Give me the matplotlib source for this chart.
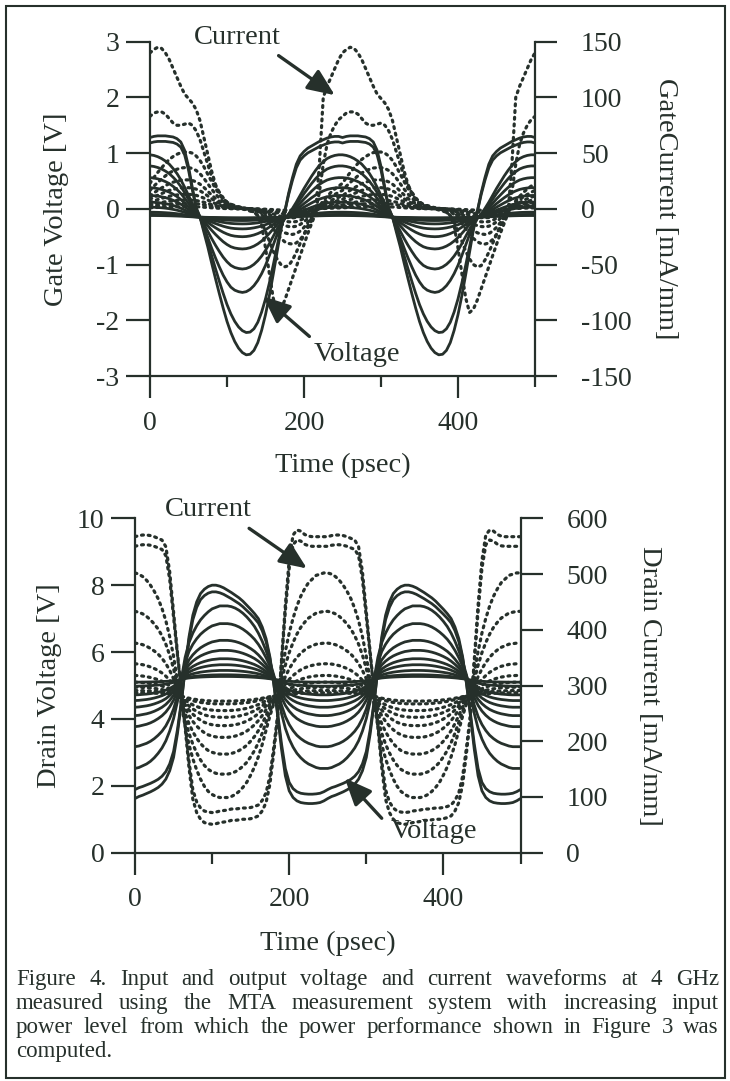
import numpy as np
import matplotlib
matplotlib.use("Agg")
import matplotlib.pyplot as plt
from matplotlib.patches import Rectangle

plt.rcParams["font.family"] = ["Liberation Serif", "DejaVu Serif"]
plt.rcParams["axes.unicode_minus"] = False

INK = "#26302b"

# time grid of one 250 ps period (4 GHz), 5 ps steps; drawn over two periods
T_STEP = 5
T_PERIOD = 250

# ---- gate side (top panel) ----
VG_BIAS = -0.15
VG_LARGE = [1.28, 1.30, 1.31, 1.31, 1.31, 1.30, 1.29, 1.26, 1.20, 1.05,
            0.76, 0.38, 0.02, -0.15, -0.42, -0.68, -0.97, -1.25, -1.52, -1.78,
            -2.02, -2.22, -2.38, -2.50, -2.58, -2.62, -2.61, -2.54, -2.40, -2.18,
            -1.90, -1.56, -1.18, -0.78, -0.38, -0.05, 0.28, 0.56, 0.80, 0.95,
            1.03, 1.09, 1.13, 1.17, 1.21, 1.24, 1.27, 1.29, 1.30, 1.30]
VG_SMALL = [1.00, 0.99, 0.97, 0.94, 0.90, 0.85, 0.78, 0.70, 0.60, 0.48,
            0.35, 0.22, 0.10, 0.00, -0.13, -0.27, -0.41, -0.54, -0.66, -0.77,
            -0.86, -0.93, -0.97, -0.99, -1.00, -0.99, -0.96, -0.91, -0.84, -0.75,
            -0.64, -0.51, -0.37, -0.23, -0.11, -0.02, 0.05, 0.14, 0.24, 0.35,
            0.46, 0.56, 0.66, 0.75, 0.83, 0.89, 0.94, 0.97, 0.99, 1.00]
VG_PEAK = [1.31, 1.21, 0.97, 0.77, 0.56, 0.38, 0.24, 0.12, 0.03, -0.06, -0.10, -0.12]
VG_TROUGH = [-2.62, -2.22, -1.50, -1.08, -0.72, -0.50, -0.36, -0.27, -0.21, -0.18, -0.17, -0.16]

IG_LARGE = [140, 143, 145, 144, 140, 134, 126, 118, 110, 103,
            99, 95, 89, 79, 64, 49, 34, 22, 14, 8,
            5, 3, 2, 1, 0, -1, -2, -3, -6, -15,
            -35, -58, -80, -93, -90, -82, -72, -62, -52, -42,
            -32, -22, -13, -4, 40, 100, 110, 118, 126, 134]
IG_SECOND = [83, 86, 87, 87, 85, 81, 77, 75, 75, 76,
             77, 75, 70, 62, 51, 40, 29, 21, 15, 10,
             6, 4, 3, 2, 1, 0, -1, -3, -6, -12,
             -20, -29, -38, -45, -50, -52, -51, -46, -39, -31,
             -23, -15, -8, -2, 15, 40, 58, 68, 75, 80]
IG_SMALL = [0.45, 0.55, 0.64, 0.72, 0.80, 0.87, 0.92, 0.96, 0.99, 1.00,
            1.00, 0.98, 0.93, 0.85, 0.74, 0.61, 0.48, 0.36, 0.26, 0.18,
            0.12, 0.08, 0.05, 0.03, 0.02, 0.01, 0.00, -0.02, -0.05, -0.10,
            -0.17, -0.26, -0.35, -0.44, -0.52, -0.58, -0.61, -0.62, -0.60, -0.54,
            -0.45, -0.33, -0.20, -0.07, 0.05, 0.14, 0.22, 0.29, 0.35, 0.40]
IG_SMALL_PEAK = [51, 37, 26, 19, 13, 8, 5, 2]

# ---- drain side (bottom panel) ----
VD_BIAS = 5.18
VD_LARGE = [1.62, 1.68, 1.72, 1.77, 1.82, 1.88, 1.95, 2.05, 2.20, 2.45,
            2.85, 3.55, 4.45, 5.50, 6.45, 7.10, 7.50, 7.75, 7.88, 7.96,
            8.00, 8.00, 7.97, 7.92, 7.85, 7.78, 7.70, 7.62, 7.52, 7.40,
            7.28, 7.15, 7.00, 6.75, 6.40, 5.85, 5.05, 4.10, 3.10, 2.30,
            1.85, 1.65, 1.55, 1.50, 1.48, 1.47, 1.47, 1.48, 1.50, 1.55]
VD_SMALL = [-1.00, -0.99, -0.97, -0.95, -0.92, -0.88, -0.83, -0.77, -0.69, -0.58,
            -0.44, -0.25, 0.00, 0.30, 0.50, 0.63, 0.73, 0.81, 0.87, 0.92,
            0.96, 0.98, 1.00, 1.00, 1.00, 0.99, 0.97, 0.94, 0.90, 0.85,
            0.79, 0.72, 0.63, 0.52, 0.39, 0.24, 0.06, -0.15, -0.38, -0.55,
            -0.67, -0.76, -0.83, -0.88, -0.92, -0.95, -0.97, -0.99, -1.00, -1.00]
VD_PEAK = [8.00, 7.80, 7.38, 6.85, 6.35, 6.05, 5.80, 5.62, 5.45, 5.32, 5.27]
VD_TROUGH = [1.47, 1.75, 2.52, 3.17, 3.77, 4.10, 4.35, 4.55, 4.72, 4.98, 5.10]

ID_BIAS = 282
ID_LARGE = [567, 569, 570, 570, 569, 567, 564, 561, 549, 504,
            432, 360, 291, 225, 153, 96, 72, 60, 54, 52,
            51, 52, 54, 55, 56, 58, 58, 59, 60, 60,
            61, 63, 66, 75, 90, 123, 180, 243, 345, 444,
            525, 570, 579, 577, 571, 568, 567, 567, 567, 567]
ID_SMALL = [1.00, 0.99, 0.97, 0.94, 0.90, 0.85, 0.79, 0.71, 0.61, 0.48,
            0.32, 0.12, -0.08, -0.30, -0.48, -0.62, -0.73, -0.82, -0.89, -0.94,
            -0.97, -0.99, -1.00, -1.00, -1.00, -0.99, -0.97, -0.94, -0.90, -0.85,
            -0.78, -0.70, -0.60, -0.48, -0.34, -0.20, -0.08, -0.02, 0.18, 0.36,
            0.51, 0.63, 0.73, 0.81, 0.87, 0.92, 0.95, 0.98, 0.99, 1.00]
ID_PEAK = [579, 561, 502, 433, 376, 339, 318, 306, 297, 291, 287]
ID_TROUGH = [51, 72, 99, 141, 177, 207, 228, 243, 255, 267, 272]

CAPTION = ["Figure 4. Input and output voltage  and current waveforms at 4 GHz",
           "measured using the MTA measurement system  with increasing  input",
           "power level from which the power performance shown in Figure 3 was",
           "computed."]

t = np.arange(0, 2 * T_PERIOD + T_STEP, T_STEP)


def two_periods(per):
    per = np.asarray(per, float)
    return np.concatenate([per, per, per[:1]])


def fit_wave(shape, ref, bias, hi, lo):
    # stretch a read-off waveform so its crest/trough land on the read-off levels
    rel = np.asarray(shape, float) - ref
    up = np.clip(rel, 0, None) / rel.max()
    dn = np.clip(rel, None, 0) / -rel.min()
    return two_periods(bias + up * (hi - bias) + dn * (bias - lo))


solid = dict(color=INK, lw=2.0, solid_capstyle="round")
dotted = dict(color=INK, lw=2.3, ls=(0, (0.6, 1.5)), dash_capstyle="round")

fig = plt.figure(figsize=(7.3, 10.81), dpi=100)
W, H = 730, 1081


def px_axes(l, r, top, bot):
    return fig.add_axes([l / W, 1 - bot / H, (r - l) / W, (bot - top) / H])


def style_axes(ax, ax2):
    ax.set_xlim(0, 500)
    ax.spines["top"].set_visible(False)
    ax.spines["right"].set_visible(False)
    for s in ("top", "left", "bottom"):
        ax2.spines[s].set_visible(False)
    for a in (ax, ax2):
        for s in a.spines.values():
            s.set_linewidth(1.6)
            s.set_color(INK)
        a.set_facecolor("none")
    ax.set_xticks([0, 100, 200, 300, 400, 500])
    ax.set_xticklabels(["0", "", "200", "", "400", ""])
    ax.tick_params(axis="x", direction="out", length=16, width=1.6, pad=9,
                   labelsize=20, color=INK, labelcolor=INK)
    for i, tk in enumerate(ax.xaxis.get_major_ticks()):
        if i % 2 == 1:
            tk.tick1line.set_markersize(8)
    ax.tick_params(axis="y", direction="out", length=17, width=1.6, pad=5,
                   labelsize=20, color=INK, labelcolor=INK)
    ax2.tick_params(axis="y", direction="out", length=16, width=1.6, pad=17,
                    labelsize=20, color=INK, labelcolor=INK)


def arrow(ax, tail, head):
    ax.annotate("", xy=head, xytext=tail, annotation_clip=False,
                arrowprops=dict(arrowstyle="-|>,head_length=0.75,head_width=0.32",
                                lw=2.4, color=INK, mutation_scale=22, shrinkA=0, shrinkB=0))


# ---------------- top panel: gate ----------------
ax = px_axes(150, 535, 41.7, 376)
ax2 = ax.twinx()
ax.set_ylim(-3, 3)
ax2.set_ylim(-150, 150)
for i, (hi, lo) in enumerate(zip(VG_PEAK, VG_TROUGH)):
    if i < 2:
        y = fit_wave(VG_LARGE, VG_BIAS, VG_BIAS, hi, lo)
    else:
        y = fit_wave(VG_SMALL, 0.0, VG_BIAS, hi, lo)
    ax.plot(t, y, **solid)
ax2.plot(t, two_periods(IG_LARGE), **dotted)
ax2.plot(t, two_periods(IG_SECOND), **dotted)
for amp in IG_SMALL_PEAK:
    ax2.plot(t, two_periods(IG_SMALL) * amp, **dotted)
style_axes(ax, ax2)
ax.set_yticks([-3, -2, -1, 0, 1, 2, 3])
ax2.set_yticks([-150, -100, -50, 0, 50, 100, 150])
ax.set_xlabel("Time (psec)", fontsize=20.5, color=INK)
ax.xaxis.set_label_coords(0.5, -0.266)
ax.xaxis.label.set_va("center")
ax.set_ylabel("Gate Voltage [V]", fontsize=20.5, color=INK)
ax.yaxis.label.set_va("center")
ax.yaxis.set_label_coords(-0.244, 0.5)
ax2.set_ylabel("GateCurrent [mA/mm]", fontsize=20.5, color=INK, rotation=270)
ax2.yaxis.label.set_va("center")
ax2.yaxis.set_label_coords(1.34, 0.5)
ax.text(114, 3.07, "Current", fontsize=20.5, color=INK, ha="center", va="center", clip_on=False)
arrow(ax, (167, 2.75), (240, 2.04))
ax.text(269, -2.62, "Voltage", fontsize=20.5, color=INK, ha="center", va="center", clip_on=False)
arrow(ax, (207, -2.29), (147, -1.57))

# ---------------- bottom panel: drain ----------------
bx = px_axes(135, 520.5, 518.3, 852.7)
bx2 = bx.twinx()
bx.set_ylim(0, 10)
bx2.set_ylim(0, 600)
for i, (hi, lo) in enumerate(zip(VD_PEAK, VD_TROUGH)):
    if i < 2:
        y = fit_wave(VD_LARGE, VD_BIAS, VD_BIAS, hi, lo)
    else:
        y = fit_wave(VD_SMALL, 0.0, VD_BIAS, hi, lo)
    bx.plot(t, y, **solid)
for i, (hi, lo) in enumerate(zip(ID_PEAK, ID_TROUGH)):
    if i < 2:
        y = fit_wave(ID_LARGE, ID_BIAS, ID_BIAS, hi, lo)
    else:
        y = fit_wave(ID_SMALL, 0.0, ID_BIAS, hi, lo)
    bx2.plot(t, y, **dotted)
style_axes(bx, bx2)
bx.set_yticks([0, 2, 4, 6, 8, 10])
bx2.set_yticks([0, 100, 200, 300, 400, 500, 600])
bx.set_xlabel("Time (psec)", fontsize=20.5, color=INK)
bx.xaxis.set_label_coords(0.5, -0.27)
bx.xaxis.label.set_va("center")
bx.set_ylabel("Drain Voltage [V]", fontsize=20.5, color=INK)
bx.yaxis.label.set_va("center")
bx.yaxis.set_label_coords(-0.223, 0.5)
bx2.set_ylabel("Drain Current [mA/mm]", fontsize=20.5, color=INK, rotation=270)
bx2.yaxis.label.set_va("center")
bx2.yaxis.set_label_coords(1.335, 0.5)
bx.text(95, 10.25, "Current", fontsize=20.5, color=INK, ha="center", va="center", clip_on=False)
arrow(bx, (148, 9.7), (223, 8.5))
bx.text(388, 0.62, "Voltage", fontsize=20.5, color=INK, ha="center", va="center", clip_on=False)
arrow(bx, (320, 1.03), (272, 2.23))

# ---------------- caption, justified ----------------
renderer = fig.canvas.get_renderer()
left_px, right_px = 16, 719
line_y = [977, 1001, 1025, 1049]
for k, (line, ypx) in enumerate(zip(CAPTION, line_y)):
    words = line.split()
    objs = [fig.text(0, 1 - ypx / H, w, fontsize=16.5, color=INK, va="center_baseline")
            for w in words]
    widths = [o.get_window_extent(renderer).width for o in objs]
    if k < len(CAPTION) - 1 and len(words) > 1:
        gap = (right_px - left_px - sum(widths)) / (len(words) - 1)
    else:
        gap = 5
    x = left_px
    for o, w in zip(objs, widths):
        o.set_x(x / W)
        x += w + gap

fig.add_artist(Rectangle((5.5 / W, 3 / H), 719 / W, 1072 / H, transform=fig.transFigure,
                         fill=False, lw=1.5, edgecolor=INK))

fig.savefig("out.png", dpi=100, facecolor="white")
